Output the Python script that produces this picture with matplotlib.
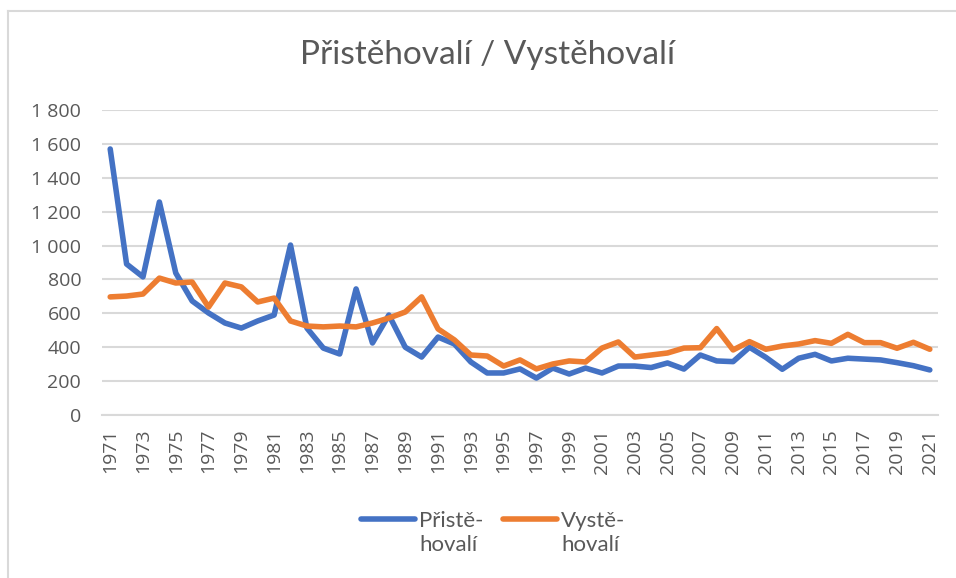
import numpy as np
import matplotlib
matplotlib.use("Agg")
from matplotlib import pyplot as plt
from matplotlib.lines import Line2D
from matplotlib.ticker import FuncFormatter
from matplotlib.legend_handler import HandlerLine2D

years = list(range(1971, 2022))

prist = [1570, 891, 815, 1257, 838, 673, 602, 543, 513, 555,
         590, 1003, 513, 395, 360, 744, 425, 590, 400, 342,
         460, 419, 313, 248, 248, 272, 218, 277, 242, 277,
         248, 289, 289, 280, 307, 271, 354, 319, 315, 400,
         340, 270, 335, 358, 319, 335, 330, 325, 309, 291,
         266]

vyst = [697, 702, 714, 808, 779, 785, 637, 779, 756, 667,
        690, 555, 525, 520, 525, 520, 543, 572, 608, 697,
        508, 443, 354, 348, 289, 325, 272, 301, 319, 313,
        395, 431, 342, 354, 366, 395, 397, 510, 384, 433,
        388, 407, 419, 439, 423, 476, 427, 427, 394, 429,
        388]

labels = ["Přistě-\nhovalí", "Vystě-\nhovalí"]
title = "Přistěhovalí / Vystěhovalí"

text_col = "#595959"
grid_col = "#d9d9d9"


class TopLineHandler(HandlerLine2D):
    # excel puts the legend line next to the first text row
    def create_artists(self, legend, orig_handle, xdescent, ydescent, width, height, fontsize, trans):
        arts = super().create_artists(legend, orig_handle, xdescent, ydescent, width, height, fontsize, trans)
        for a in arts:
            a.set_ydata(np.asarray(a.get_ydata()) + fontsize * 0.65)
        return arts


fig = plt.figure(figsize=(9.56, 5.78), dpi=100)
ax = fig.add_axes([102 / 956, 1 - 415 / 578, 836 / 956, 305 / 578])

l1, = ax.plot(years, prist, color="#4472C4", lw=4, label=labels[0], solid_joinstyle="round", solid_capstyle="round")
l2, = ax.plot(years, vyst, color="#ED7D31", lw=4, label=labels[1], solid_joinstyle="round", solid_capstyle="round")

ax.set_xlim(1970.5, 2021.5)
ax.set_ylim(0, 1800)
ax.set_yticks(np.arange(0, 1801, 200))
ax.set_xticks(years[::2])
ax.yaxis.set_major_formatter(FuncFormatter(lambda v, p: f"{v:,.0f}".replace(",", " ")))
ax.grid(axis="y", color=grid_col, lw=1.5)
ax.set_axisbelow(True)
for s in ["top", "right", "left"]:
    ax.spines[s].set_visible(False)
ax.spines["bottom"].set_color(grid_col)
ax.spines["bottom"].set_linewidth(1.5)
ax.tick_params(length=0, colors=text_col)
ax.tick_params(axis="y", labelsize=14, pad=15)
ax.tick_params(axis="x", labelsize=14, rotation=90, pad=10)
for t in ax.get_xticklabels() + ax.get_yticklabels():
    t.set_fontfamily("Open Sans")

fig.text(0.51, 1 - 55 / 578, title, ha="center", va="center", fontsize=24,
         color=text_col, family="Lato")

leg = fig.legend(handles=[l1, l2], loc="center", bbox_to_anchor=(0.516, 1 - 533 / 578), ncol=2,
                 frameon=False, prop={"family": "Lato", "size": 16},
                 handlelength=2.4, handletextpad=0.2, columnspacing=0.9,
                 handler_map={Line2D: TopLineHandler()})
for t in leg.get_texts():
    t.set_color(text_col)

# chart border (top and left visible)
fig.add_artist(Line2D([8 / 956, 1], [1 - 11 / 578, 1 - 11 / 578], color=grid_col, lw=1.5))
fig.add_artist(Line2D([8 / 956, 8 / 956], [0, 1 - 11 / 578], color=grid_col, lw=1.5))

fig.savefig("out.png", dpi=100)
